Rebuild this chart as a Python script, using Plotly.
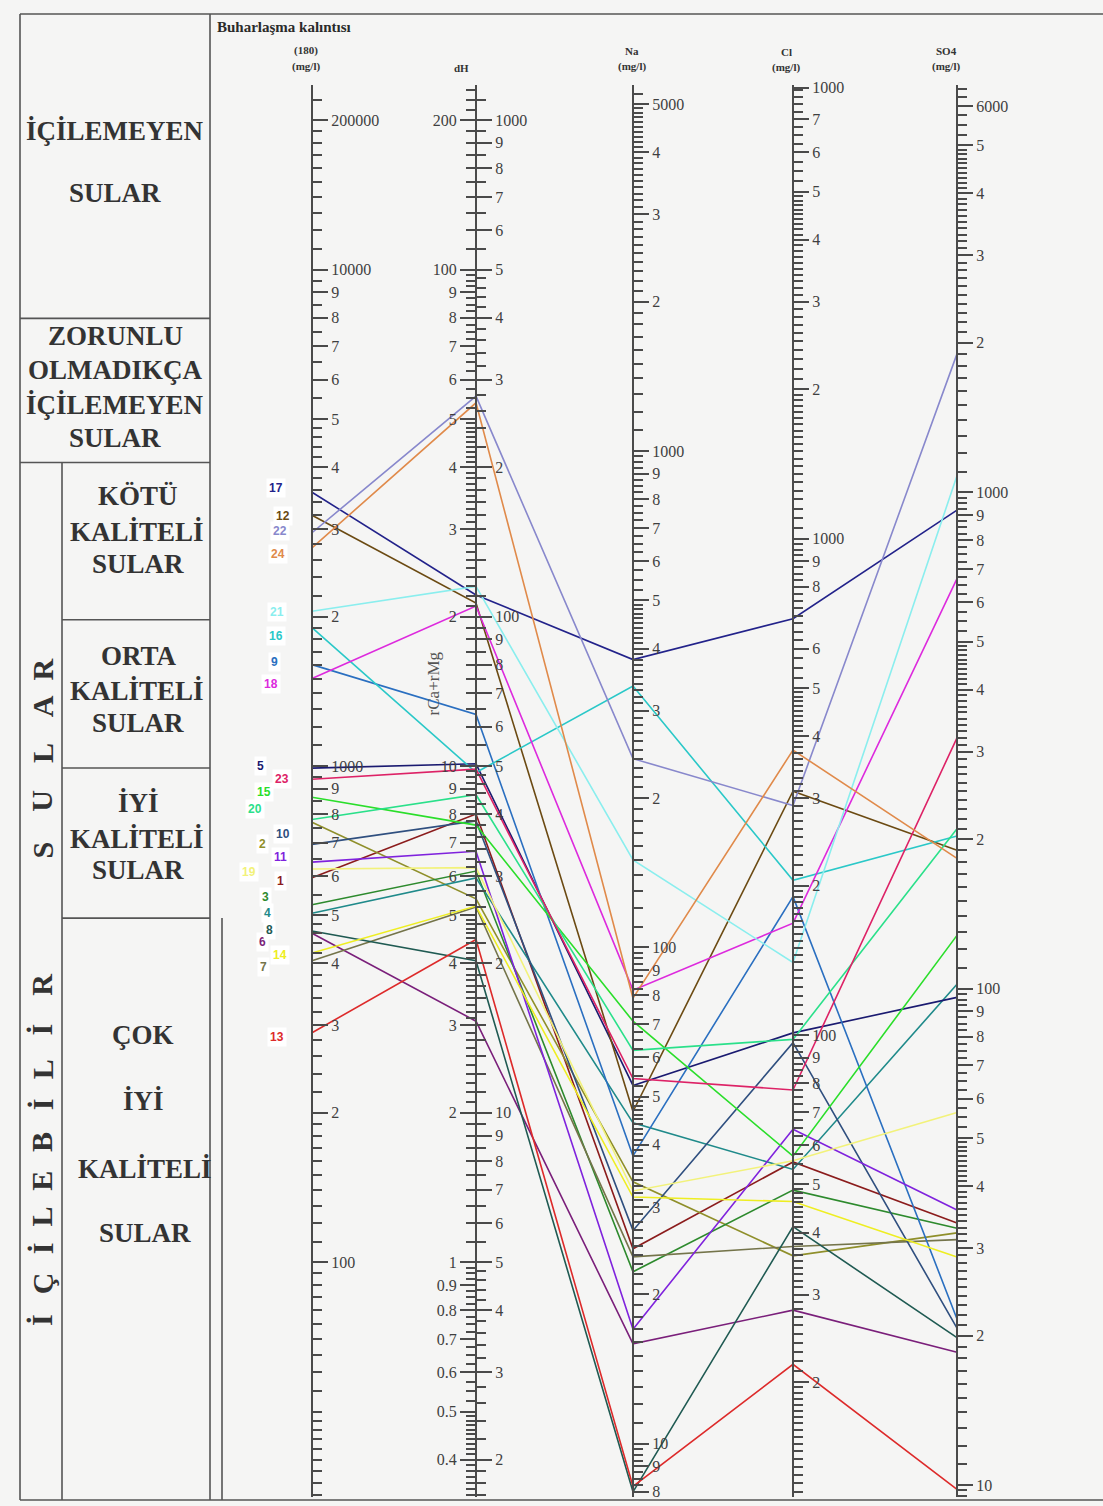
import numpy as np
import plotly.graph_objects as go

W, H = 1103, 1506

# ---------------------------------------------------------------- data
sample_ids = [str(i) for i in range(1, 25)]
# evaporation residue (180 C), mg/l
evap_residue = [595, 770, 525, 505, 990, 460, 405, 465, 1600, 695, 640, 3200,
                290, 420, 865, 1900, 3560, 1500, 620, 780, 2050, 2950, 940, 2750]
# total hardness, German degrees (dH)
hardness_dh = [8.0, 5.4, 6.14, 5.95, 10.1, 3.06, 5.2, 4.05, 12.7, 7.75, 6.73, 21.3,
               4.47, 5.22, 7.6, 9.7, 22.1, 21.0, 6.24, 8.75, 23.0, 55.6, 9.85, 53.9]
# sodium, mg/l
sodium = [24.7, 33.7, 22.2, 44.3, 52.7, 15.9, 23.8, 8.0, 38.0, 26.9, 17.0, 46.7,
          8.2, 31.4, 71.0, 336.0, 380.0, 82.0, 32.3, 62.0, 150.0, 240.0, 54.4, 79.0]
# chloride, mg/l
chloride = [55.5, 35.9, 48.7, 53.6, 101.0, 27.9, 37.5, 41.1, 190.0, 96.5, 64.6, 310.0,
            21.7, 46.2, 57.0, 205.0, 690.0, 168.0, 55.8, 98.0, 140.0, 290.0, 77.5, 375.0]
# sulphate, mg/l
sulfate = [33.7, 32.2, 32.9, 102.0, 96.0, 18.5, 31.2, 19.8, 21.6, 20.7, 35.8, 190.0,
           9.8, 28.8, 128.0, 203.0, 920.0, 670.0, 56.3, 210.0, 1080.0, 1900.0, 320.0, 183.0]

sample_colors = ["#8b1c1c", "#8f8f2a", "#2d8a2d", "#1f8a8a", "#1a1a70", "#7a1f7a",
                 "#74744a", "#1f5a52", "#2a6fc0", "#2f4f7f", "#7f22dd", "#6b4a12",
                 "#dd2a2a", "#eeee22", "#2ade2a", "#2ac8c8", "#22228a", "#dd2add",
                 "#f2f27a", "#2ae08a", "#8aeeee", "#8888cc", "#dd2266", "#e08a4a"]

# tick labels of each scale
ec_tickvals = [20000, 10000, 9000, 8000, 7000, 6000, 5000, 4000, 3000, 2000,
               1000, 900, 800, 700, 600, 500, 400, 300, 200, 100]
ec_ticktext = ["200000", "10000", "9", "8", "7", "6", "5", "4", "3", "2",
               "1000", "9", "8", "7", "6", "5", "4", "3", "2", "100"]
dh_tickvals = [200, 100, 90, 80, 70, 60, 50, 40, 30, 20, 10, 9, 8, 7, 6, 5, 4, 3, 2,
               1, 0.9, 0.8, 0.7, 0.6, 0.5, 0.4]
dh_ticktext = ["200", "100", "9", "8", "7", "6", "5", "4", "3", "2", "10", "9", "8",
               "7", "6", "5", "4", "3", "2", "1", "0.9", "0.8", "0.7", "0.6", "0.5", "0.4"]
camg_tickvals = [1000, 900, 800, 700, 600, 500, 400, 300, 200, 100, 90, 80, 70, 60,
                 50, 40, 30, 20, 10, 9, 8, 7, 6, 5, 4, 3, 2]
camg_ticktext = ["1000", "9", "8", "7", "6", "5", "4", "3", "2", "100", "9", "8", "7",
                 "6", "5", "4", "3", "2", "10", "9", "8", "7", "6", "5", "4", "3", "2"]
na_tickvals = [5000, 4000, 3000, 2000, 1000, 900, 800, 700, 600, 500, 400, 300, 200,
               100, 90, 80, 70, 60, 50, 40, 30, 20, 10, 9, 8]
na_ticktext = ["5000", "4", "3", "2", "1000", "9", "8", "7", "6", "5", "4", "3", "2",
               "100", "9", "8", "7", "6", "5", "4", "3", "2", "10", "9", "8"]
cl_tickvals = [8100, 7000, 6000, 5000, 4000, 3000, 2000, 1000, 900, 800, 700, 600,
               500, 400, 300, 200, 100, 90, 80, 70, 60, 50, 40, 30, 20]
cl_ticktext = ["1000", "7", "6", "5", "4", "3", "2", "1000", "9", "8", "", "6",
               "5", "4", "3", "2", "100", "9", "8", "7", "6", "5", "4", "3", "2"]
so4_tickvals = [6000, 5000, 4000, 3000, 2000, 1000, 900, 800, 700, 600, 500, 400,
                300, 200, 100, 90, 80, 70, 60, 50, 40, 30, 20, 10]
so4_ticktext = ["6000", "5", "4", "3", "2", "1000", "9", "8", "7", "6", "5", "4",
                "3", "2", "100", "9", "8", "7", "6", "5", "4", "3", "2", "10"]

# ---------------------------------------------------------------- geometry
PX_PER_DECADE = 499.0       # vertical length of one log decade
PX_UNIT = 2262.0            # row where the shared scale value would equal 1
AX_TOP, AX_BOT = 80, 1500   # vertical extent of the scales
log_hi = (PX_UNIT - AX_TOP) / PX_PER_DECADE
log_lo = (PX_UNIT - AX_BOT) / PX_PER_DECADE
domain = [1 - AX_BOT / H, 1 - AX_TOP / H]

COL_X = {"ec": 312, "dh": 476, "na": 633, "cl": 793, "so4": 957}
# offset of each scale on the shared logarithmic axis
FACTOR = {"ec": 1.0, "dh": 100.0, "camg": 20.0, "na": 4.31, "cl": 2.87, "so4": 3.56}

AXIS_C = "#4a4a4a"
SERIF = "Liberation Serif"


def px(x):
    return x / W


def py(y):
    return 1 - y / H


def minor_ticks(vmin, vmax, steps):
    vals = []
    for e in range(int(np.floor(np.log10(vmin))) - 1, int(np.ceil(np.log10(vmax))) + 1):
        for a, b, s in steps:
            for m in np.arange(a, b - 1e-9, s):
                v = round(m, 3) * 10.0 ** e
                if vmin <= v <= vmax:
                    vals.append(v)
    return vals


DENSE = ((1, 2, 0.05), (2, 5, 0.1), (5, 10, 0.25))
MEDIUM = ((1, 2, 0.1), (2, 5, 0.1), (5, 10, 0.25))
SPARSE = ((1, 2, 0.1), (2, 5, 0.2), (5, 10, 0.5))


def scale_axis(key, xkey, side, tickvals, ticktext, steps, fsize=16):
    off = np.log10(FACTOR[key])
    vmin, vmax = 10 ** (log_lo - off), 10 ** (log_hi - off)
    return dict(
        type="log", range=[log_lo - off, log_hi - off], domain=domain,
        anchor="free", position=px(COL_X[xkey]), overlaying="y", side=side,
        showline=True, linecolor=AXIS_C, linewidth=2,
        ticks="outside", ticklen=15, tickwidth=2, tickcolor=AXIS_C,
        tickmode="array", tickvals=tickvals, ticktext=ticktext,
        tickfont=dict(family=SERIF, size=fsize, color="#3f3f3f"),
        minor=dict(tickmode="array", tickvals=minor_ticks(vmin, vmax, steps),
                   ticks="outside", ticklen=9, tickwidth=1.6, tickcolor=AXIS_C),
        showgrid=False, zeroline=False, fixedrange=True,
    )


fig = go.Figure()

# ---------------------------------------------------------------- sample lines
xs = [COL_X["ec"], COL_X["dh"], COL_X["na"], COL_X["cl"], COL_X["so4"]]
for i, sid in enumerate(sample_ids):
    ys = [evap_residue[i] * FACTOR["ec"], hardness_dh[i] * FACTOR["dh"],
          sodium[i] * FACTOR["na"], chloride[i] * FACTOR["cl"],
          sulfate[i] * FACTOR["so4"]]
    fig.add_trace(go.Scatter(x=xs, y=ys, mode="lines", name=sid,
                             line=dict(color=sample_colors[i], width=1.6),
                             showlegend=False, hoverinfo="skip"))

# ---------------------------------------------------------------- axes
fig.update_layout(
    width=W, height=H, margin=dict(l=0, r=0, t=0, b=0),
    paper_bgcolor="#f5f5f4", plot_bgcolor="rgba(0,0,0,0)", showlegend=False,
    xaxis=dict(range=[0, W], domain=[0, 1], visible=False, fixedrange=True),
    yaxis=dict(type="log", range=[log_lo, log_hi], domain=domain, visible=False,
               fixedrange=True),
    yaxis2=scale_axis("ec", "ec", "right", ec_tickvals, ec_ticktext, SPARSE),
    yaxis3=scale_axis("dh", "dh", "left", dh_tickvals, dh_ticktext, MEDIUM),
    yaxis4=scale_axis("camg", "dh", "right", camg_tickvals, camg_ticktext, SPARSE),
    yaxis5=scale_axis("na", "na", "right", na_tickvals, na_ticktext, MEDIUM),
    yaxis6=scale_axis("cl", "cl", "right", cl_tickvals, cl_ticktext, DENSE),
    yaxis7=scale_axis("so4", "so4", "right", so4_tickvals, so4_ticktext, MEDIUM),
)
# anchor invisible traces so every scale axis is rendered
for n in range(2, 8):
    fig.add_trace(go.Scatter(x=[None], y=[None], yaxis=f"y{n}", showlegend=False,
                             hoverinfo="skip"))

# ---------------------------------------------------------------- frame / table
LINE_C = "#555555"
frame = [
    (20, 9, 1103, 9), (20, 1503, 1103, 1503), (20, 9, 20, 1503), (210, 9, 210, 1503),
    (20, 315, 210, 315), (20, 460, 210, 460), (62, 460, 62, 1503),
    (62, 618, 210, 618), (62, 767, 210, 767), (62, 918, 210, 918),
    (222, 918, 222, 1503),
]
shapes = []
for x0, y0, x1, y1 in frame:
    shapes.append(dict(type="line", xref="paper", yref="paper",
                       x0=px(x0), y0=py(y0), x1=px(x1), y1=py(y1),
                       line=dict(color=LINE_C, width=1.6)))
fig.update_layout(shapes=shapes)

ann = []


def text(x, y, s, size, bold=True, color="#333333", family=SERIF, angle=0,
         xanchor="center", bg=None):
    d = dict(xref="paper", yref="paper", x=px(x), y=py(y), showarrow=False,
             text=f"<b>{s}</b>" if bold else s, textangle=angle, xanchor=xanchor,
             yanchor="middle", font=dict(family=family, size=size, color=color))
    if bg:
        d.update(bgcolor=bg, borderpad=2)
    ann.append(d)


TABLE_SIZE = 27
table_rows = [
    (115, 127, "İÇİLEMEYEN"), (115, 189, "SULAR"),
    (115, 333, "ZORUNLU"), (115, 367, "OLMADIKÇA"), (115, 402, "İÇİLEMEYEN"),
    (115, 435, "SULAR"),
    (138, 494, "KÖTÜ"), (137, 530, "KALİTELİ"), (138, 562, "SULAR"),
    (139, 654, "ORTA"), (137, 690, "KALİTELİ"), (138, 722, "SULAR"),
    (138, 802, "İYİ"), (137, 838, "KALİTELİ"), (138, 870, "SULAR"),
    (143, 1035, "ÇOK"), (143, 1102, "İYİ"), (145, 1170, "KALİTELİ"),
    (145, 1235, "SULAR"),
]
for x, y, s in table_rows:
    text(x, y, s, TABLE_SIZE)

# vertical spaced title of the drinkable group
side_letters = [("İ", 1322), ("Ç", 1285), ("İ", 1250), ("L", 1218), ("E", 1182),
                ("B", 1143), ("İ", 1105), ("L", 1070), ("İ", 1030), ("R", 985),
                ("S", 850), ("U", 800), ("L", 752), ("A", 705), ("R", 668)]
for s, y in side_letters:
    text(42, y, s, 30, angle=-90)

# headers of the scales
text(215, 22, "Buharlaşma kalıntısı", 15, xanchor="left", color="#2a2a2a")
text(306, 46, "(180)", 11)
text(306, 62, "(mg/l)", 11)
text(461, 63, "dH", 11)
text(632, 46, "Na", 11)
text(632, 62, "(mg/l)", 11)
text(786, 47, "Cl", 11)
text(786, 63, "(mg/l)", 11)
text(946, 46, "SO4", 11)
text(946, 62, "(mg/l)", 11)
text(433, 682, "rCa+rMg", 17, bold=False, color="#555555", angle=-90)

# sample number tags beside the residue scale
LABEL_POS = {
    "17": (276, 486), "12": (283, 514), "22": (280, 529), "24": (278, 552),
    "21": (277, 610), "16": (276, 634), "9": (274, 661), "18": (271, 683),
    "5": (260, 765), "23": (282, 778), "15": (264, 791), "20": (255, 808),
    "10": (283, 833), "2": (262, 843), "11": (280, 857), "19": (249, 872),
    "1": (280, 881), "3": (265, 897), "4": (267, 913), "8": (269, 930),
    "6": (262, 942), "14": (280, 955), "7": (263, 967), "13": (277, 1038),
}
for i, sid in enumerate(sample_ids):
    x, y = LABEL_POS[sid]
    text(x, y, sid, 12, family="Liberation Sans", color=sample_colors[i], bg="white")

fig.update_layout(annotations=ann)
fig.write_html("out.html")
